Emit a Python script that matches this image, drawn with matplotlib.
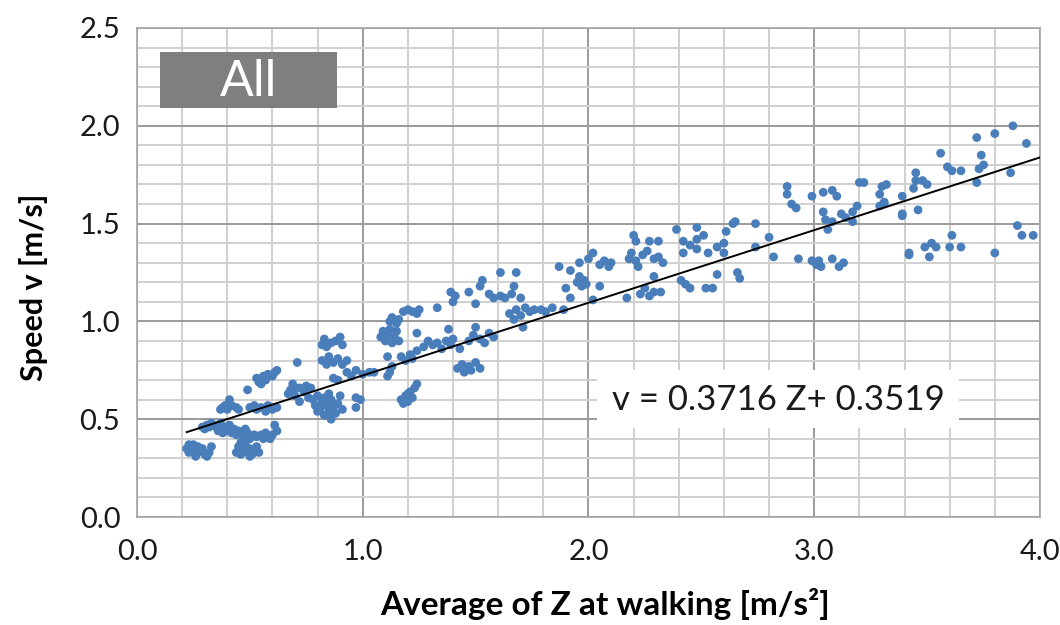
import matplotlib
matplotlib.use("Agg")
import matplotlib.pyplot as plt
from matplotlib.patches import Rectangle
from matplotlib.ticker import MultipleLocator
import numpy as np

# ---- data ----
pts = [
    (0.22,0.35),(0.23,0.37),(0.23,0.33),(0.24,0.36),(0.25,0.34),(0.25,0.37),(0.26,0.35),(0.27,0.33),
    (0.27,0.36),(0.28,0.34),(0.29,0.35),(0.30,0.32),(0.31,0.31),(0.32,0.33),(0.33,0.36),(0.26,0.31),
    (0.29,0.46),(0.30,0.45),(0.31,0.47),(0.32,0.46),(0.33,0.48),(0.34,0.47),(0.35,0.46),(0.36,0.44),
    (0.37,0.48),(0.38,0.43),(0.39,0.46),(0.40,0.44),(0.41,0.47),(0.42,0.43),(0.43,0.45),(0.44,0.42),
    (0.37,0.55),(0.38,0.56),(0.39,0.57),(0.40,0.55),(0.41,0.60),(0.42,0.57),(0.44,0.56),(0.45,0.55),
    (0.44,0.33),(0.45,0.36),(0.46,0.32),(0.47,0.34),(0.48,0.37),(0.49,0.33),(0.50,0.35),(0.51,0.32),
    (0.52,0.34),(0.53,0.36),(0.54,0.33),(0.46,0.38),(0.50,0.31),
    (0.45,0.44),(0.47,0.41),(0.49,0.43),(0.50,0.40),(0.52,0.42),(0.53,0.41),(0.55,0.42),(0.56,0.40),
    (0.57,0.43),(0.58,0.41),(0.60,0.42),(0.61,0.47),(0.62,0.44),(0.59,0.40),(0.48,0.45),
    (0.49,0.65),(0.50,0.56),(0.52,0.57),(0.53,0.55),(0.55,0.56),(0.57,0.54),(0.58,0.57),(0.60,0.55),
    (0.62,0.56),(0.53,0.71),(0.54,0.69),(0.56,0.72),(0.57,0.70),(0.58,0.73),(0.60,0.72),(0.61,0.74),
    (0.62,0.75),(0.55,0.68),
    (0.67,0.63),(0.68,0.65),(0.69,0.68),(0.70,0.62),(0.71,0.79),(0.72,0.66),(0.72,0.59),(0.74,0.64),
    (0.75,0.67),(0.76,0.61),(0.77,0.66),(0.70,0.66),
    (0.78,0.60),(0.79,0.57),(0.80,0.62),(0.81,0.55),(0.82,0.59),(0.83,0.52),(0.83,0.61),(0.84,0.57),
    (0.85,0.54),(0.86,0.50),(0.86,0.60),(0.87,0.56),(0.88,0.53),(0.89,0.58),(0.90,0.62),(0.91,0.55),
    (0.85,0.63),(0.80,0.54),
    (0.82,0.88),(0.83,0.91),(0.84,0.87),(0.86,0.89),(0.88,0.90),(0.90,0.92),(0.91,0.88),(0.82,0.80),
    (0.84,0.78),(0.85,0.82),(0.87,0.79),(0.89,0.81),(0.91,0.78),(0.93,0.80),
    (0.87,0.71),(0.89,0.70),(0.93,0.74),(0.95,0.72),(0.97,0.75),(1.00,0.73),(1.03,0.74),(0.97,0.56),
    (0.97,0.61),(0.99,0.60),(1.05,0.74),
    (1.08,0.92),(1.09,0.95),(1.10,0.90),(1.11,0.93),(1.12,0.96),(1.13,0.89),(1.14,0.92),(1.15,0.95),
    (1.16,0.90),(1.12,1.00),(1.13,1.02),(1.15,0.99),(1.16,1.01),(1.11,0.82),(1.12,0.74),(1.13,0.77),
    (1.11,0.72),
    (1.18,1.05),(1.20,1.06),(1.22,1.05),(1.24,1.04),(1.25,1.06),(1.17,0.82),(1.19,0.80),(1.21,0.83),
    (1.22,0.81),(1.24,0.85),(1.24,0.94),(1.17,0.60),(1.18,0.58),(1.19,0.62),(1.20,0.59),(1.21,0.64),
    (1.22,0.61),(1.23,0.66),(1.24,0.68),(1.20,0.63),
    (1.27,0.87),(1.29,0.90),(1.31,0.88),(1.33,1.07),(1.33,0.89),(1.35,0.86),(1.37,0.90),(1.38,0.96),
    (1.39,0.88),(1.39,1.15),(1.40,0.91),(1.40,1.10),(1.41,1.13),
    (1.43,0.86),(1.42,0.76),(1.44,0.78),(1.45,0.74),(1.47,0.77),(1.48,0.75),(1.50,0.79),(1.52,0.76),
    (1.47,0.90),(1.49,0.93),(1.50,0.97),(1.52,0.91),(1.54,0.89),(1.56,0.94),(1.58,0.92),(1.47,1.15),
    (1.50,1.09),(1.52,1.18),(1.53,1.21),
    (1.56,1.14),(1.58,1.12),(1.61,1.13),(1.61,1.25),(1.63,1.12),(1.66,1.14),(1.67,1.18),(1.68,1.25),
    (1.70,1.12),(1.65,1.04),(1.67,1.01),(1.68,1.06),(1.70,1.03),(1.71,0.97),(1.72,1.07),(1.74,1.05),
    (1.76,1.06),
    (1.79,1.06),(1.81,1.05),(1.84,1.07),(1.89,1.06),(1.87,1.28),(1.92,1.26),(1.90,1.17),(1.92,1.12),
    (1.95,1.20),(1.96,1.23),(1.97,1.18),(1.98,1.21),(1.96,1.30),(2.00,1.32),(2.02,1.35),(2.02,1.11),
    (1.99,1.19),
    (2.05,1.29),(2.07,1.31),(2.09,1.28),(2.10,1.30),(2.05,1.18),(2.17,1.12),(2.18,1.32),(2.19,1.35),
    (2.21,1.31),(2.20,1.44),(2.21,1.41),(2.22,1.28),(2.24,1.34),(2.26,1.36),(2.27,1.41),(2.31,1.41),
    (2.29,1.32),(2.31,1.33),(2.33,1.30),(2.29,1.23),(2.23,1.14),(2.25,1.17),(2.27,1.13),(2.29,1.15),
    (2.32,1.15),
    (2.39,1.47),(2.42,1.41),(2.42,1.35),(2.45,1.39),(2.48,1.42),(2.48,1.37),(2.48,1.48),(2.51,1.44),
    (2.53,1.35),(2.57,1.38),(2.60,1.40),(2.61,1.46),(2.64,1.50),(2.60,1.35),(2.41,1.21),(2.43,1.19),
    (2.45,1.17),(2.52,1.17),(2.55,1.17),(2.57,1.24),(2.66,1.25),(2.67,1.22),(2.65,1.51),
    (2.74,1.50),(2.74,1.38),(2.80,1.43),(2.82,1.33),(2.88,1.69),(2.88,1.65),(2.90,1.60),(2.92,1.58),
    (2.93,1.32),(2.99,1.64),(2.99,1.31),(3.01,1.29),(3.02,1.31),(3.03,1.28),(3.04,1.66),(3.08,1.67),
    (3.10,1.64),(3.04,1.56),(3.05,1.52),(3.06,1.47),(3.08,1.51),(3.12,1.55),(3.14,1.53),(3.17,1.56),
    (3.17,1.51),(3.19,1.59),(3.08,1.32),(3.11,1.28),(3.13,1.30),(3.20,1.71),(3.22,1.71),
    (3.29,1.65),(3.30,1.69),(3.31,1.60),(3.32,1.70),(3.29,1.59),(3.31,1.61),(3.39,1.64),(3.39,1.54),
    (3.39,1.55),(3.44,1.68),(3.45,1.76),(3.45,1.72),(3.48,1.72),(3.50,1.70),(3.46,1.57),(3.56,1.86),
    (3.59,1.79),(3.61,1.77),(3.65,1.77),(3.72,1.94),(3.74,1.85),(3.75,1.80),(3.73,1.78),(3.72,1.71),
    (3.80,1.96),(3.88,2.00),(3.94,1.91),(3.87,1.76),(3.42,1.35),(3.42,1.34),(3.49,1.38),(3.51,1.33),
    (3.52,1.40),(3.54,1.38),(3.60,1.38),(3.61,1.44),(3.65,1.38),(3.80,1.35),(3.90,1.49),(3.92,1.44),
    (3.97,1.44),
]
z_values = [p[0] for p in pts]
v_values = [p[1] for p in pts]

slope = 0.3716
intercept = 0.3519
label_text = "All"
equation_text = "v = 0.3716 Z+ 0.3519"
x_ticks = [0.0, 1.0, 2.0, 3.0, 4.0]
y_ticks = [0.0, 0.5, 1.0, 1.5, 2.0, 2.5]

# ---- figure ----
plt.rcParams['font.family'] = ['Lato', 'DejaVu Sans']
fig = plt.figure(figsize=(10.6, 6.25), dpi=100)
ax = fig.add_axes([0.1292, 0.1728, 0.8519, 0.7824])
ax.set_xlim(0, 4.0)
ax.set_ylim(0, 2.5)

ax.xaxis.set_minor_locator(MultipleLocator(0.2))
ax.yaxis.set_minor_locator(MultipleLocator(0.1))
ax.set_xticks(x_ticks)
ax.set_yticks(y_ticks)
ax.set_xticklabels([f"{t:.1f}" for t in x_ticks])
ax.set_yticklabels([f"{t:.1f}" for t in y_ticks])

ax.grid(which='minor', color='#d0d0d0', linewidth=1.4, zorder=0)
ax.grid(which='major', color='#9a9a9a', linewidth=1.4, zorder=0)
ax.set_axisbelow(True)
ax.tick_params(which='both', length=0, labelsize=21, colors='#1a1a1a')
ax.tick_params(axis='x', pad=16)
ax.tick_params(axis='y', pad=12)
for s in ax.spines.values():
    s.set_color('#a6a6a6')
    s.set_linewidth(1.2)

ax.scatter(z_values, v_values, s=40, color='#4a7ebb', edgecolors='none', zorder=3)

xl = np.array([min(z_values), 4.0])
ax.plot(xl, slope * xl + intercept, color='black', linewidth=1.4, zorder=4)

# "All" label box
ax.add_patch(Rectangle((0.102, 2.091), 0.784, 0.286, facecolor='#7f7f7f', edgecolor='none', zorder=5))
ax.text(0.494, 2.225, label_text, color='white', fontsize=36, ha='center', va='center', zorder=6)

# equation box
ax.add_patch(Rectangle((2.04, 0.455), 1.60, 0.297, facecolor='white', edgecolor='none', zorder=5))
ax.text(2.84, 0.60, equation_text, color='#1a1a1a', fontsize=25, ha='center', va='center', zorder=6)

ax.set_xlabel("Average of Z at walking [m/s²]", fontsize=24, fontweight='bold')
ax.xaxis.set_label_coords(0.518, -0.145)
ax.set_ylabel("Speed v [m/s]", fontsize=22, fontweight='bold')
ax.yaxis.set_label_coords(-0.098, 0.47)

fig.savefig("out.png", dpi=100)
